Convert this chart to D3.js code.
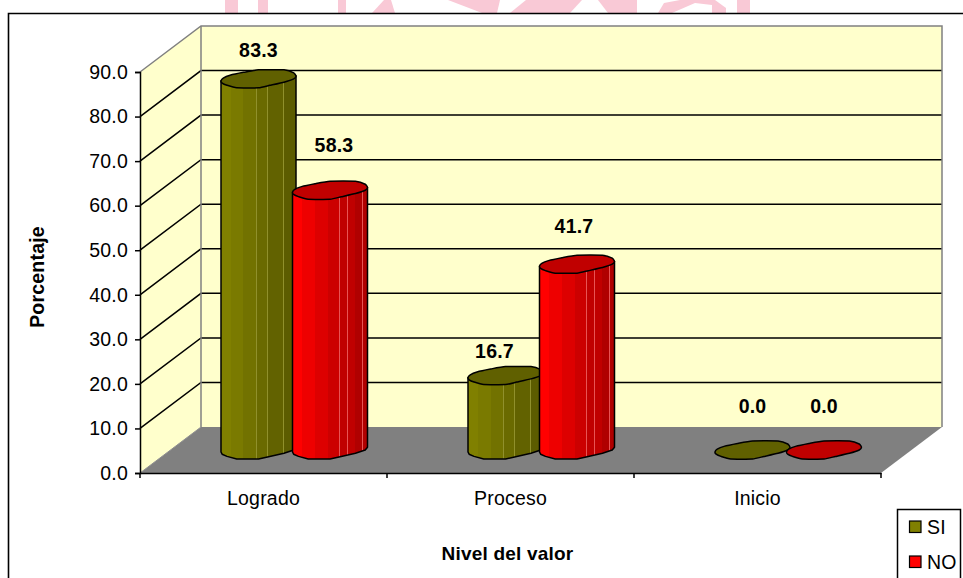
<!DOCTYPE html>
<html>
<head>
<meta charset="utf-8">
<script src="https://cdn.jsdelivr.net/npm/d3@7"></script>
<style>
  html, body { margin: 0; padding: 0; background: #fff; }
  svg { display: block; }
  text { font-family: "Liberation Sans", Arial, sans-serif; fill: #000; letter-spacing: 0.2px; }
</style>
</head>
<body>
<div id="chart"></div>
<script>
const categories = ["Logrado", "Proceso", "Inicio"];
const seriesNames = ["SI", "NO"];
const siValues = [83.3, 16.7, 0.0];
const noValues = [58.3, 41.7, 0.0];
const yTicks = [0, 10, 20, 30, 40, 50, 60, 70, 80, 90];

const width = 963, height = 578;

// plot box, front plane and how far the back wall is shifted
const plot = { left: 140, right: 881, bottom: 473, top: 72 };
const depth = { dx: 61, dy: -46 };

// hand nudges for the value labels, same order as the values
const labelNudge = {
  SI: [[0, -22], [-11, -18], [0, -37]],
  NO: [[4, -38], [-3, -31], [0, -37]]
};

const colors = {
  SI: { cap: "#606000", swatch: "#808000", stops: ["#808000", "#7a7a00", "#727200", "#6a6a00", "#626200", "#5c5c00"], stripe: "#90902c" },
  NO: { cap: "#c00000", swatch: "#ff0000", stops: ["#ff0000", "#ee0000", "#dd0000", "#cc0000", "#c00000", "#b00000"], stripe: "#e85454" }
};

const svg = d3.select("#chart").append("svg")
  .attr("width", width)
  .attr("height", height);

// bits of the pink page watermark above the frame
const watermark = [
  [[225, 0], [238, 0], [238, 13], [225, 13]],
  [[258, 0], [268, 0], [268, 13], [258, 13]],
  [[338, 0], [346, 0], [346, 13], [338, 13]],
  [[372, 13], [384, 0], [391, 0], [395, 13]],
  [[448, 0], [500, 0], [497, 13], [482, 13]],
  [[510, 13], [526, 0], [582, 0], [570, 13]],
  [[598, 0], [637, 0], [637, 13], [608, 13]],
  [[658, 13], [664, 3], [680, 0], [715, 0], [726, 8], [726, 13], [712, 13], [712, 5], [695, 3], [672, 13]],
  [[737, 0], [750, 0], [750, 13], [737, 13]]
];
svg.append("g").selectAll("polygon")
  .data(watermark)
  .join("polygon")
  .attr("points", d => d.join(" "))
  .attr("fill", "#f9c9d6");

// outer frame, open on the right and bottom
svg.append("path")
  .attr("d", `M8.5,${height + 2}V13.5H${width + 2}`)
  .attr("fill", "none")
  .attr("stroke", "#000")
  .attr("stroke-width", 1.6);

const y = d3.scaleLinear().domain([0, 90]).range([plot.bottom, plot.top]);
const x0 = d3.scaleBand().domain(categories).range([plot.left, plot.right]);
const x1 = d3.scaleBand().domain(seriesNames).range([81, 81 + 2 * 71.5]);
const barWidth = 75;

const backX = plot.left + depth.dx, backRight = plot.right + depth.dx;
const walls = svg.append("g");

walls.append("polygon") // left wall
  .attr("points", [[plot.left, y(0)], [backX, y(0) + depth.dy], [backX, y(90) + depth.dy], [plot.left, y(90)]].join(" "))
  .attr("fill", "#ffffcc");
walls.append("rect") // back wall
  .attr("x", backX)
  .attr("y", y(90) + depth.dy)
  .attr("width", backRight - backX)
  .attr("height", y(0) - y(90))
  .attr("fill", "#ffffcc");
walls.append("polygon") // floor
  .attr("points", [[plot.left, y(0)], [backX, y(0) + depth.dy], [backRight, y(0) + depth.dy], [plot.right, y(0)]].join(" "))
  .attr("fill", "#808080");

// grid lines run across the left wall then along the back wall
walls.append("g").selectAll("path")
  .data(yTicks.filter(d => d > 0 && d < 90))
  .join("path")
  .attr("d", d => `M${plot.left},${y(d)}L${backX},${y(d) + depth.dy}H${backRight}`)
  .attr("fill", "none")
  .attr("stroke", "#000")
  .attr("stroke-width", 1.5);
// top and side edges of the walls are grey
walls.append("path")
  .attr("d", `M${plot.left},${y(90)}L${backX},${y(90) + depth.dy}H${backRight}V${y(0) + depth.dy}`)
  .attr("fill", "none")
  .attr("stroke", "#808080")
  .attr("stroke-width", 1.5);
walls.append("line")
  .attr("x1", backX).attr("x2", backX)
  .attr("y1", y(90) + depth.dy).attr("y2", y(0) + depth.dy)
  .attr("stroke", "#808080")
  .attr("stroke-width", 1.5);
walls.append("path")
  .attr("d", `M${plot.left},${y(0)}L${backX},${y(0) + depth.dy}`)
  .attr("stroke", "#909090")
  .attr("stroke-width", 1);

// cap outline in fractions of bar width (u) and px from the cap centre (v)
const capOutline = [
  [0, 2], [0.03, -0.8], [0.12, -3.6], [0.3, -6.5], [0.5, -9], [0.84, -9], [0.97, -6],
  [1, -2.7], [0.97, 0], [0.84, 3.3], [0.65, 6.5], [0.5, 9], [0.21, 9], [0.08, 6.4], [0.015, 4.2]
];
const lowerEdge = capOutline.slice(7); // right point round to the left point

const gradient = svg.append("defs").selectAll("linearGradient")
  .data(seriesNames)
  .join("linearGradient")
  .attr("id", d => "body-" + d);

// banded shading with thin light stripes on the right half
const stripeAt = [0.47, 0.62, 0.73, 0.83, 0.93];
gradient.each(function (name) {
  const g = d3.select(this), c = colors[name];
  const band = d3.scaleQuantize().domain([0, 1]).range(c.stops);
  let edges = [0, 0.13, 0.3];
  stripeAt.forEach(s => edges.push(s));
  edges.push(1);
  edges.forEach((e, i) => {
    if (i === edges.length - 1) return;
    const next = edges[i + 1], col = band((e + next) / 2);
    g.append("stop").attr("offset", e).attr("stop-color", i > 2 ? c.stripe : col);
    g.append("stop").attr("offset", i > 2 ? e + 0.008 : e).attr("stop-color", i > 2 ? c.stripe : col);
    g.append("stop").attr("offset", i > 2 ? e + 0.008 : e).attr("stop-color", col);
    g.append("stop").attr("offset", next).attr("stop-color", col);
  });
});

const bars = [];
categories.forEach((cat, i) => {
  seriesNames.forEach((name, j) => {
    bars.push({ cat, name, value: (j === 0 ? siValues : noValues)[i], nudge: labelNudge[name][i] });
  });
});

const line = d3.line();
const mid = { dx: 0, dy: depth.dy / 2 }; // bars stand half way back on the floor

const barG = svg.append("g").selectAll("g")
  .data(bars)
  .join("g")
  .attr("transform", d => `translate(${x0(d.cat) + x1(d.name)},0)`);

barG.filter(d => d.value > 0).append("path")
  .attr("d", d => {
    const topY = y(d.value) + mid.dy, baseY = y(0) + mid.dy;
    const pts = [[0, topY + 2], [0, baseY + 2]]
      .concat(lowerEdge.slice().reverse().map(p => [p[0] * barWidth, baseY + p[1]]))
      .concat([[barWidth, topY - 3]]);
    return line(pts) + "Z";
  })
  .attr("fill", d => `url(#body-${d.name})`)
  .attr("stroke", "#000")
  .attr("stroke-width", 1.5)
  .attr("stroke-linejoin", "round");

barG.append("path")
  .attr("d", d => {
    const cy = y(d.value) + mid.dy;
    return d3.line().curve(d3.curveCardinalClosed.tension(0.5))(capOutline.map(p => [p[0] * barWidth, cy + p[1]]));
  })
  .attr("fill", d => colors[d.name].cap)
  .attr("stroke", "#000")
  .attr("stroke-width", 1.5);

barG.append("text")
  .attr("x", d => barWidth / 2 + d.nudge[0])
  .attr("y", d => y(d.value) + mid.dy + d.nudge[1])
  .attr("text-anchor", "middle")
  .attr("font-size", 19.5)
  .attr("font-weight", "bold")
  .text(d => d3.format(".1f")(d.value));

// axes
const yAxis = svg.append("g")
  .attr("transform", `translate(${plot.left},0)`)
  .call(d3.axisLeft(y).tickValues(yTicks).tickFormat(d3.format(".1f")).tickSize(5).tickPadding(7));
yAxis.selectAll("text").attr("font-size", 19.5).attr("font-family", null);
yAxis.selectAll("line, path").attr("stroke", "#000").attr("stroke-width", 1.5);

const xAxis = svg.append("g")
  .attr("transform", `translate(0,${plot.bottom})`)
  .call(d3.axisBottom(x0).tickSize(0).tickPadding(18));
xAxis.selectAll("text").attr("font-size", 19.5).attr("font-family", null);
xAxis.select(".domain").attr("stroke", "#000").attr("stroke-width", 1.6);

// x tick marks sit between the categories
svg.append("g").selectAll("line")
  .data(categories.map(c => x0(c)).concat([plot.right]))
  .join("line")
  .attr("x1", d => d).attr("x2", d => d)
  .attr("y1", plot.bottom).attr("y2", plot.bottom + 5)
  .attr("stroke", "#000")
  .attr("stroke-width", 1.5);

svg.append("text")
  .attr("transform", "translate(43.5,277) rotate(-90)")
  .attr("text-anchor", "middle")
  .attr("font-size", 19.5)
  .attr("font-weight", "bold")
  .text("Porcentaje");

svg.append("text")
  .attr("x", 507.5)
  .attr("y", 560)
  .attr("text-anchor", "middle")
  .attr("font-size", 19)
  .attr("font-weight", "bold")
  .text("Nivel del valor");

// legend
const legend = svg.append("g");
legend.append("rect")
  .attr("x", 897.5).attr("y", 509.5)
  .attr("width", 63).attr("height", 80)
  .attr("fill", "#fff")
  .attr("stroke", "#000")
  .attr("stroke-width", 1.5);
const legendY = d3.scalePoint().domain(seriesNames).range([527, 562]);
const item = legend.selectAll("g")
  .data(seriesNames)
  .join("g")
  .attr("transform", d => `translate(0,${legendY(d)})`);
item.append("rect")
  .attr("x", 909.5).attr("y", -6)
  .attr("width", 11.5).attr("height", 11.5)
  .attr("fill", d => colors[d].swatch)
  .attr("stroke", "#000")
  .attr("stroke-width", 1.2);
item.append("text")
  .attr("x", 927)
  .attr("y", 7)
  .attr("font-size", 19.5)
  .text(d => d);
</script>
</body>
</html>
